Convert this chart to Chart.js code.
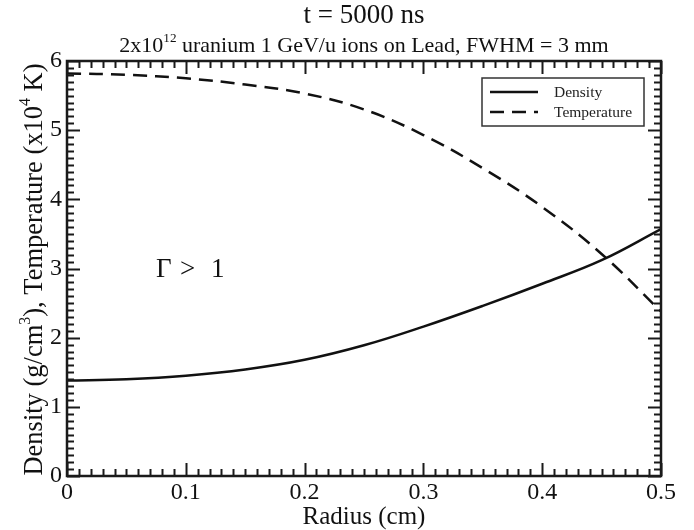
<!DOCTYPE html>
<html>
<head>
<meta charset="utf-8">
<script src="https://cdn.jsdelivr.net/npm/chart.js@4.4.1/dist/chart.umd.min.js"></script>
<style>
  html, body { margin: 0; padding: 0; background: #fff; }
</style>
</head>
<body>
<canvas id="chart" width="694" height="530"></canvas>
<script>
// values
const radius      = [0, 0.05, 0.1, 0.15, 0.2, 0.25, 0.3, 0.35, 0.4, 0.45, 0.5];
const density     = [1.38, 1.40, 1.45, 1.54, 1.68, 1.89, 2.16, 2.46, 2.78, 3.12, 3.57];
const temperature = [5.82, 5.80, 5.75, 5.66, 5.53, 5.30, 4.93, 4.45, 3.89, 3.21, 2.38];
const xTicks = [0, 0.1, 0.2, 0.3, 0.4, 0.5];
const yTicks = [0, 1, 2, 3, 4, 5, 6];
const seriesNames = ['Density', 'Temperature'];

const SERIF = '"Liberation Serif", "Times New Roman", serif';

// {{{ richText()
function richText(ctx, parts, x, y, size, align)
{
  let w = 0;
  for (let p of parts)
  {
    ctx.font = (p.sup ? size * 0.6 : size) + 'px ' + SERIF;
    p.w = ctx.measureText(p.t).width;
    w += p.w;
  }
  let cx = (align == 'center') ? x - w / 2 : x;
  for (let p of parts)
  {
    ctx.font = (p.sup ? size * 0.6 : size) + 'px ' + SERIF;
    ctx.fillText(p.t, cx, p.sup ? y - size * 0.45 : y);
    cx += p.w;
  }
}
// }}}

// {{{ frame plugin: box, inward ticks on four sides, titles, legend, label
const framePlugin =
{
  id: 'frame',
  afterDraw(chart)
  {
    const ctx = chart.ctx;
    const a = chart.chartArea;
    const sx = chart.scales.x;
    const sy = chart.scales.y;
    ctx.save();
    ctx.strokeStyle = '#1a1a1a';
    ctx.fillStyle = '#111';
    ctx.lineCap = 'butt';
    // ticks
    ctx.lineWidth = 2;
    ctx.beginPath();
    for (let i = 0; i <= 50; i++)
    {
      const px = Math.round(sx.getPixelForValue(i / 100)) + 0.5;
      const len = (i % 10 == 0) ? 13 : 7;
      ctx.moveTo(px, a.bottom); ctx.lineTo(px, a.bottom - len);
      ctx.moveTo(px, a.top); ctx.lineTo(px, a.top + len);
    }
    for (let i = 0; i <= 60; i++)
    {
      const py = Math.round(sy.getPixelForValue(i / 10)) + 0.5;
      const len = (i % 10 == 0) ? 13 : 7;
      ctx.moveTo(a.left, py); ctx.lineTo(a.left + len, py);
      ctx.moveTo(a.right, py); ctx.lineTo(a.right - len, py);
    }
    ctx.stroke();
    // box
    ctx.lineWidth = 2.5;
    ctx.strokeRect(a.left, a.top, a.right - a.left, a.bottom - a.top);

    // titles
    const mid = (a.left + a.right) / 2;
    ctx.textAlign = 'left';
    ctx.textBaseline = 'alphabetic';
    richText(ctx, [{t: 't = 5000 ns'}], mid, 23, 27, 'center');
    richText(ctx, [{t: '2x10'}, {t: '12', sup: true}, {t: ' uranium 1 GeV/u ions on Lead, FWHM = 3 mm'}], mid, 52, 22, 'center');

    // y axis title
    ctx.save();
    ctx.translate(42, (a.top + a.bottom) / 2 + 1);
    ctx.rotate(-Math.PI / 2);
    richText(ctx, [{t: 'Density (g/cm'}, {t: '3', sup: true}, {t: '), Temperature (x10'}, {t: '4', sup: true}, {t: ' K)'}], 0, 0, 26.5, 'center');
    ctx.restore();

    // Gamma > 1
    const gx = sx.getPixelForValue(0.075);
    const gy = sy.getPixelForValue(2.88);
    ctx.font = '27px ' + SERIF;
    ctx.fillText('\u0393', gx, gy);
    ctx.fillText('>', gx + 24, gy);
    ctx.fillText('1', gx + 55, gy);

    // legend
    const lx = a.right - 179, ly = a.top + 17, lw = 162, lh = 48;
    ctx.lineWidth = 1.5;
    ctx.strokeStyle = '#333';
    ctx.strokeRect(lx, ly, lw, lh);
    ctx.font = '15.5px ' + SERIF;
    ctx.fillStyle = '#222';
    chart.data.datasets.forEach((d, i) =>
    {
      const yy = ly + 14 + i * 20;
      ctx.save();
      ctx.strokeStyle = d.borderColor;
      ctx.lineWidth = d.borderWidth;
      ctx.setLineDash(d.borderDash || []);
      ctx.beginPath();
      ctx.moveTo(lx + 8, yy); ctx.lineTo(lx + 56, yy);
      ctx.stroke();
      ctx.restore();
      ctx.fillText(d.label, lx + 72, yy + 5);
    });
    ctx.restore();
  }
};
// }}}

const tickFont = {family: SERIF, size: 24};

new Chart(document.getElementById('chart'),
{
  type: 'line',
  data:
  {
    datasets:
    [
      {
        label: seriesNames[0],
        data: radius.map((r, i) => ({x: r, y: density[i]})),
        borderColor: '#111',
        borderWidth: 2.5,
        pointRadius: 0,
        tension: 0.4
      },
      {
        label: seriesNames[1],
        data: radius.map((r, i) => ({x: r, y: temperature[i]})),
        borderColor: '#111',
        borderWidth: 2.5,
        borderDash: [14, 8],
        pointRadius: 0,
        tension: 0.4
      }
    ]
  },
  options:
  {
    responsive: false,
    animation: false,
    devicePixelRatio: 1,
    layout: {padding: {top: 61, right: 33, left: 0, bottom: 0}},
    plugins: {legend: {display: false}, tooltip: {enabled: false}},
    scales:
    {
      x:
      {
        type: 'linear',
        min: 0,
        max: 0.5,
        afterBuildTicks: (s) => { s.ticks = xTicks.map((v) => ({value: v})); },
        afterFit: (s) => { s.height = 54; },
        grid: {display: false, drawTicks: false},
        border: {display: false},
        ticks: {font: tickFont, color: '#111', padding: 2, maxRotation: 0, callback: (v) => String(v)},
        title: {display: true, text: 'Radius (cm)', color: '#111', font: {family: SERIF, size: 25, lineHeight: 1.0}, padding: 0}
      },
      y:
      {
        min: 0,
        max: 6,
        afterBuildTicks: (s) => { s.ticks = yTicks.map((v) => ({value: v})); },
        afterFit: (s) => { s.width = 67; },
        grid: {display: false, drawTicks: false},
        border: {display: false},
        ticks: {font: tickFont, color: '#111', padding: 5, callback: (v) => String(v)}
      }
    }
  },
  plugins: [framePlugin]
});
</script>
</body>
</html>
